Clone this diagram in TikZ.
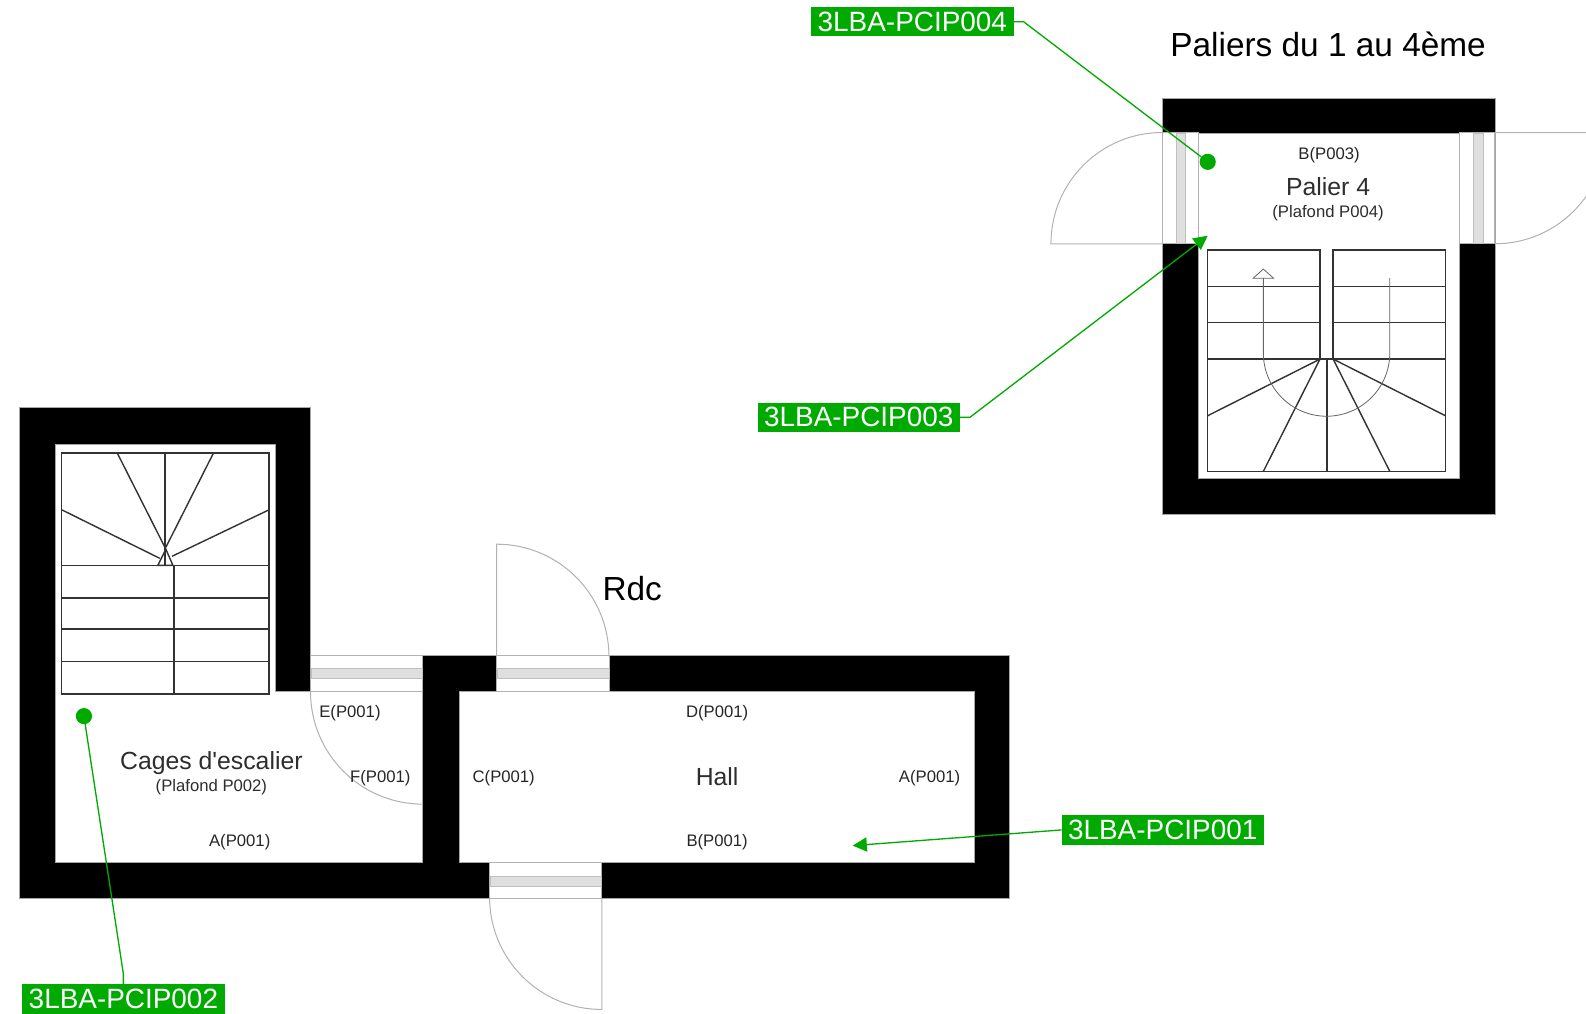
\documentclass[tikz,border=0pt]{standalone}
\usepackage{fontspec}
\setmainfont{Liberation Sans}
\usetikzlibrary{arrows.meta}
\definecolor{tagcolor}{RGB}{0,170,0}
\definecolor{roomink}{RGB}{45,45,45}
\begin{document}
\begin{tikzpicture}[x=1pt,y=-1pt,inner sep=0pt,outer sep=0pt,>={Triangle[length=14pt,width=14pt]},
wall/.style={fill=black,draw=gray!70,line width=0.8pt},
room/.style={fill=white,draw=gray!70,line width=1pt},
doorway/.style={fill=white,draw=gray!60,line width=1pt},
doorstripe/.style={fill=gray!25,draw=gray!50,line width=0.6pt},
doorswing/.style={draw=gray!60,line width=1pt},
stair/.style={draw=black!80,line width=1.4pt},
walkline/.style={draw=black!60,line width=0.8pt},
tagbox/.style={fill=tagcolor,text=white,minimum width=200pt,minimum height=29pt,font=\fontsize{27.6}{30}\selectfont},
tagline/.style={draw=tagcolor,line width=1.3pt},
tagdot/.style={circle,fill=tagcolor,minimum size=16pt},
title/.style={font=\fontsize{33}{36}\selectfont},
roomname/.style={text=roomink,font=\fontsize{24.5}{27}\selectfont},
ceiling/.style={text=roomink,font=\fontsize{16.5}{18}\selectfont},
wallname/.style={text=black!85,font=\fontsize{16.5}{18}\selectfont}]

\useasboundingbox (0,0) rectangle (1568,1002);

% landing
\draw[wall] (1149,97) rectangle (1478,508.5);
\draw[room] (1185,132) rectangle (1443,473);
\draw[doorway] (1149,131) rectangle (1185,241);
\draw[doorstripe] (1162.5,131.5) rectangle (1172,240.5);
\draw[doorway] (1443,131) rectangle (1478,241);
\draw[doorstripe] (1456.5,131.5) rectangle (1466,240.5);
\draw[doorswing] (1149,241) -- (1039,241) arc[start angle=180,end angle=90,radius=110pt];
\draw[doorswing] (1478,131) -- (1588,131) arc[start angle=0,end angle=-90,radius=110pt];

\draw[stair] (1194,247) rectangle (1305,355);
\draw[stair] (1318,247) rectangle (1429,355);
\draw[stair] (1194,355) rectangle (1429,466);
\draw[stair] (1194,283) -- (1305,283);
\draw[stair] (1194,319) -- (1305,319);
\draw[stair] (1318,283) -- (1429,283);
\draw[stair] (1318,319) -- (1429,319);
\draw[stair] (1305,355) -- (1194,411);
\draw[stair] (1305,355) -- (1249,466);
\draw[stair] (1312,355) -- (1312,466);
\draw[stair] (1318,355) -- (1374,466);
\draw[stair] (1318,355) -- (1429,411);
\draw[walkline] (1249,275) -- (1249,349) arc[start angle=180,end angle=360,radius=62.5pt] -- (1374,275);
\draw[walkline,fill=white] (1249,266) -- (1259,275) -- (1239,275) -- cycle;

% ground floor
\draw[wall] (19,403) -- (307,403) -- (307,648) -- (998,648) -- (998,888.5) -- (19,888.5) -- cycle;
\draw[room] (55,439) -- (272,439) -- (272,684) -- (418,684) -- (418,853) -- (55,853) -- cycle;
\draw[room] (454,684) rectangle (963,853);
\draw[doorway] (307,648) rectangle (418,684);
\draw[doorstripe] (307.5,661) rectangle (417.5,671);
\draw[doorway] (491,648) rectangle (603,684);
\draw[doorstripe] (491.5,661) rectangle (602.5,671);
\draw[doorway] (484,853) rectangle (595,888);
\draw[doorstripe] (484.5,866) rectangle (594.5,876);
\draw[doorswing] (307,684) arc[start angle=180,end angle=270,radius=111pt];
\draw[doorswing] (491,648) -- (491,538) arc[start angle=90,end angle=0,radius=111pt];
\draw[doorswing] (595,888) -- (595,998) arc[start angle=270,end angle=180,radius=111pt];

\draw[stair] (61,448) rectangle (266,686);
\draw[stair] (61,559) -- (266,559);
\draw[stair] (61,591) -- (266,591);
\draw[stair] (61,622) -- (266,622);
\draw[stair] (61,654) -- (266,654);
\draw[stair] (172,559) -- (172,686);
\draw[stair] (163,448) -- (163,559);
\draw[stair] (116,448) -- (163,541);
\draw[stair] (211,448) -- (164,541);
\draw[stair] (61,504) -- (158,552);
\draw[stair] (266,504) -- (170,550);
\draw[stair] (164,543) -- (156,559) -- (171,559) -- cycle;

% texts
\draw (1313,44) node[title] (upperfloors) {Paliers du 1 au 4ème};
\draw (625,582) node[title] (groundfloor) {Rdc};
\draw (1314,153.5) node[wallname] (wallB3) {B(P003)};
\draw (1313,185) node[roomname] (landing) {Palier 4};
\draw (1313,211) node[ceiling] (ceil4) {(Plafond P004)};
\draw (209,754) node[roomname] (cage) {Cages d\textquotesingle escalier};
\draw (209,778.5) node[ceiling] (ceil2) {(Plafond P002)};
\draw (346,705.5) node[wallname] (wallE) {E(P001)};
\draw (376,769) node[wallname] (wallF) {F(P001)};
\draw (237,832.5) node[wallname] (wallA2) {A(P001)};
\draw (709,768) node[roomname] (hall) {Hall};
\draw (709,705.5) node[wallname] (wallD) {D(P001)};
\draw (498,769) node[wallname] (wallC) {C(P001)};
\draw (919,769) node[wallname] (wallA) {A(P001)};
\draw (709,832.5) node[wallname] (wallB) {B(P001)};

% tags
\draw (902,21.5) node[tagbox] (tag4) {3LBA-PCIP004};
\draw (849,412.5) node[tagbox] (tag3) {3LBA-PCIP003};
\draw (1149.5,820.5) node[tagbox] (tag1) {3LBA-PCIP001};
\draw (122,987.5) node[tagbox] (tag2) {3LBA-PCIP002};
\draw (1194,160) node[tagdot] (dot4) {};
\draw (83,708) node[tagdot] (dot2) {};
\coordinate (end3) at (1194,233);
\coordinate (end1) at (843,836);

\draw[tagline] (tag4.east) -- ++(10,0) -- (dot4);
\draw[tagline,->] (tag3.east) -- ++(10,0) -- (end3);
\draw[tagline,->] (tag1.west) -- (end1);
\draw[tagline] (tag2.north) -- ++(0,-10) -- (dot2);

\end{tikzpicture}
\end{document}
